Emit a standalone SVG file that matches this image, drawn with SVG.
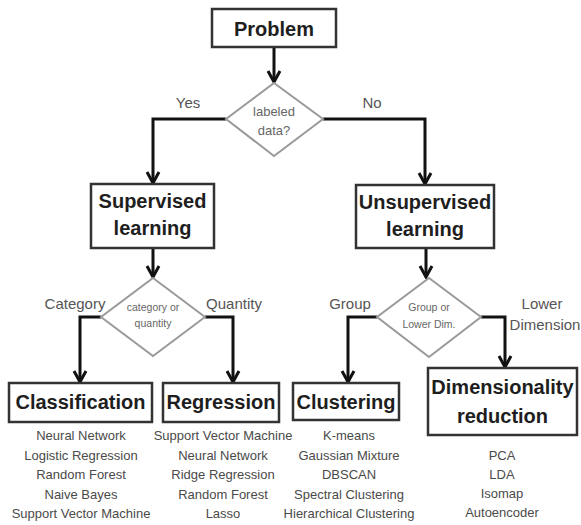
<svg xmlns="http://www.w3.org/2000/svg" width="581" height="525" viewBox="0 0 581 525">
<style>
.box{fill:#fff;stroke:#333;stroke-width:2.5}
.dia{fill:#fff;stroke:#9a9a9a;stroke-width:2}
.title{font-family:"Liberation Sans",Arial,sans-serif;font-weight:bold;font-size:20px;fill:#1e1e1e;text-anchor:middle}
.q{font-family:"Liberation Sans",Arial,sans-serif;font-size:13px;fill:#666;text-anchor:middle}
.qs{font-family:"Liberation Sans",Arial,sans-serif;font-size:10.5px;fill:#666;text-anchor:middle}
.lbl{font-family:"Liberation Sans",Arial,sans-serif;font-size:15px;fill:#555;text-anchor:middle}
.li{font-family:"Liberation Sans",Arial,sans-serif;font-size:13px;fill:#4a4a4a;text-anchor:middle}
.con{fill:none;stroke:#111;stroke-width:3;marker-end:url(#ah)}
</style>
<defs>
<marker id="ah" markerUnits="userSpaceOnUse" viewBox="0 0 16 16" markerWidth="16" markerHeight="16" refX="14" refY="8" orient="auto">
<path d="M3,2 L14,8 L3,14" fill="none" stroke="#111" stroke-width="3"/>
</marker>
</defs>
<rect width="581" height="525" fill="#fff"/>
<g id="connectors">
<path class="con" d="M274,47 V82"/>
<path class="con" d="M226,119 H153 V183"/>
<path class="con" d="M323,119 H425 V184"/>
<path class="con" d="M153,248 V277"/>
<path class="con" d="M426,248 V277"/>
<path class="con" d="M101,317 H80 V382"/>
<path class="con" d="M205,317 H233 V382"/>
<path class="con" d="M377,317 H348 V382"/>
<path class="con" d="M481,317 H505 V367"/>
</g>
<g id="problem">
<rect class="box" x="212" y="9" width="124" height="38"/>
<text class="title" x="274" y="36">Problem</text>
</g>
<g id="labeled">
<polygon class="dia" points="274,83 323,119 274,156 226,119"/>
<text class="q" x="274" y="116">labeled</text>
<text class="q" x="274" y="135">data?</text>
</g>
<text class="lbl" x="188" y="108">Yes</text>
<text class="lbl" x="372" y="108">No</text>
<g id="supervised">
<rect class="box" x="91" y="184" width="123" height="64"/>
<text class="title" x="152.5" y="208">Supervised</text>
<text class="title" x="152.5" y="235">learning</text>
</g>
<g id="unsupervised">
<rect class="box" x="356" y="185" width="138" height="63"/>
<text class="title" x="425" y="209">Unsupervised</text>
<text class="title" x="425" y="236">learning</text>
</g>
<g id="catq">
<polygon class="dia" points="153,278 205,317 153,356 101,317"/>
<text class="qs" x="153" y="311">category or</text>
<text class="qs" x="153" y="327">quantity</text>
</g>
<text class="lbl" x="75" y="309">Category</text>
<text class="lbl" x="234" y="309">Quantity</text>
<g id="grouplow">
<polygon class="dia" points="429,278 481,317 429,357 377,317"/>
<text class="qs" x="429" y="311">Group or</text>
<text class="qs" x="429" y="328">Lower Dim.</text>
</g>
<text class="lbl" x="350" y="309">Group</text>
<text class="lbl" x="542" y="309">Lower</text>
<text class="lbl" x="545" y="330">Dimension</text>
<g id="classification">
<rect class="box" x="9" y="383" width="143" height="39"/>
<text class="title" x="80.5" y="409">Classification</text>
<text class="li" x="81" y="440">Neural Network</text>
<text class="li" x="81" y="459.5">Logistic Regression</text>
<text class="li" x="81" y="479">Random Forest</text>
<text class="li" x="81" y="498.5">Naive Bayes</text>
<text class="li" x="81" y="518">Support Vector Machine</text>
</g>
<g id="regression">
<rect class="box" x="163" y="383" width="116" height="39"/>
<text class="title" x="221" y="409">Regression</text>
<text class="li" x="223" y="440">Support Vector Machine</text>
<text class="li" x="223" y="459.5">Neural Network</text>
<text class="li" x="223" y="479">Ridge Regression</text>
<text class="li" x="223" y="498.5">Random Forest</text>
<text class="li" x="223" y="518">Lasso</text>
</g>
<g id="clustering">
<rect class="box" x="293" y="383" width="106" height="37"/>
<text class="title" x="346" y="409">Clustering</text>
<text class="li" x="349" y="440">K-means</text>
<text class="li" x="349" y="459.5">Gaussian Mixture</text>
<text class="li" x="349" y="479">DBSCAN</text>
<text class="li" x="349" y="498.5">Spectral Clustering</text>
<text class="li" x="349" y="518">Hierarchical Clustering</text>
</g>
<g id="dimred">
<rect class="box" x="428" y="368" width="149" height="67"/>
<text class="title" x="502.5" y="394">Dimensionality</text>
<text class="title" x="502.5" y="423">reduction</text>
<text class="li" x="502" y="460">PCA</text>
<text class="li" x="502" y="478.5">LDA</text>
<text class="li" x="502" y="497.5">Isomap</text>
<text class="li" x="502" y="517">Autoencoder</text>
</g>
</svg>
